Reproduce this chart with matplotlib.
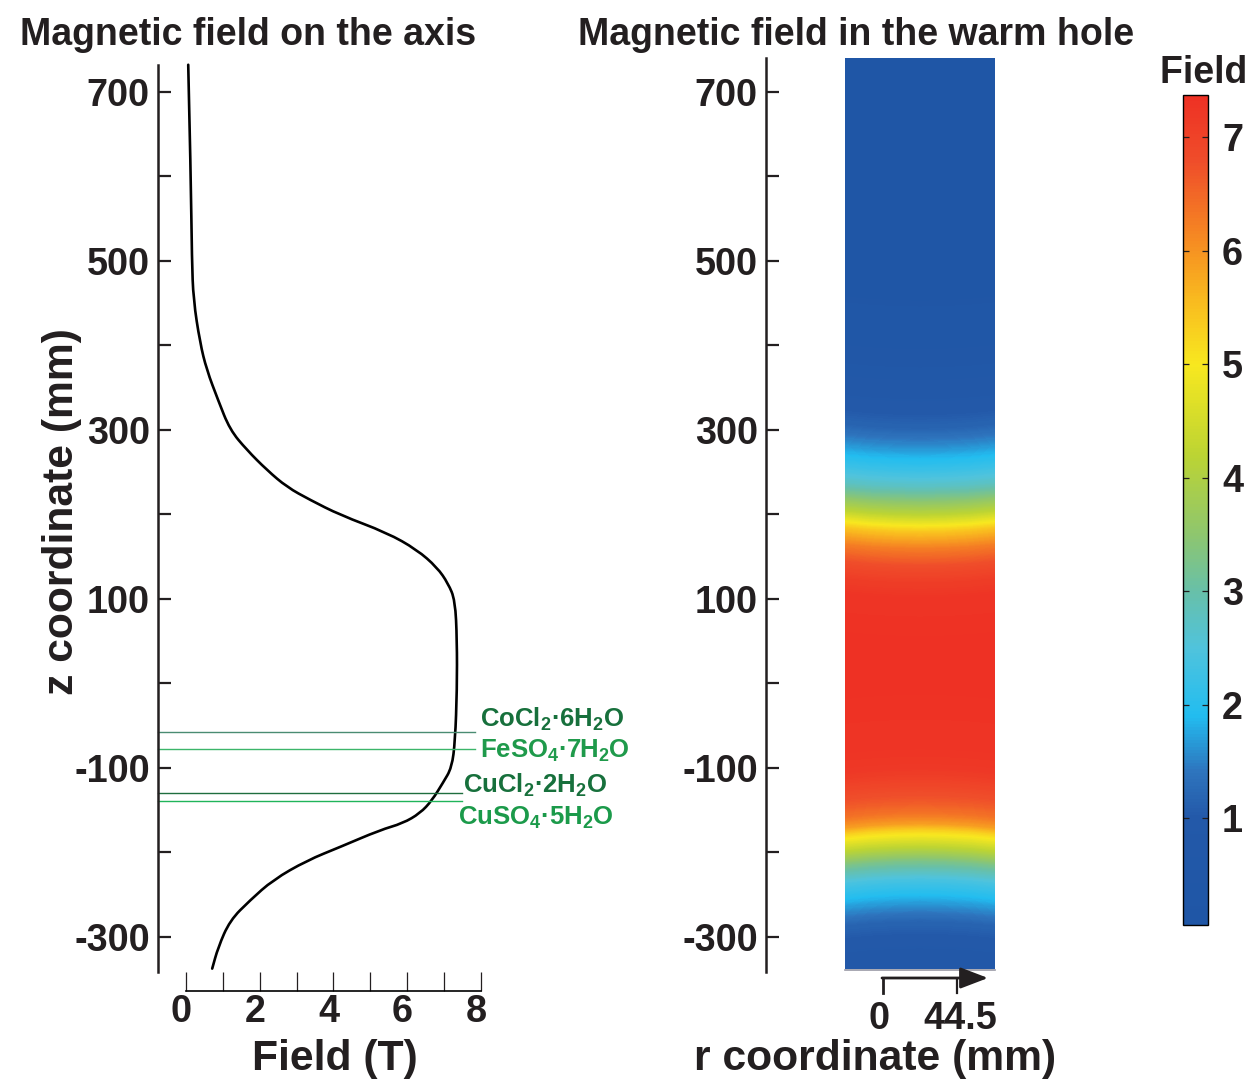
import numpy as np
import matplotlib
matplotlib.use("Agg")
import matplotlib.pyplot as plt
from matplotlib.colors import LinearSegmentedColormap, Normalize
from matplotlib.cm import ScalarMappable
from matplotlib.lines import Line2D
from matplotlib.path import Path
from matplotlib.patches import PathPatch
from matplotlib.transforms import IdentityTransform, ScaledTranslation

# ---- data ----
# field on the axis (z in mm, B in T)
Z_AXIS = [732, 600, 501, 454, 403, 371, 335, 300, 276, 252, 232, 217, 199, 178, 158,
          137, 118, 98, 51, -8, -68, -100, -118, -139, -154, -166, -174, -194, -210,
          -233, -257, -281, -313, -338]
B_AXIS = [0.06, 0.13, 0.16, 0.20, 0.38, 0.56, 0.87, 1.19, 1.65, 2.20, 2.74, 3.36, 4.18,
          5.45, 6.26, 6.81, 7.11, 7.30, 7.35, 7.35, 7.30, 7.21, 6.97, 6.67, 6.35, 5.88,
          5.26, 4.18, 3.28, 2.36, 1.74, 1.19, 0.87, 0.71]

# sample positions (mm) and their labels
SALTS = ["CoCl$_2$·6H$_2$O", "FeSO$_4$·7H$_2$O", "CuCl$_2$·2H$_2$O", "CuSO$_4$·5H$_2$O"]
SALT_Z = [-58, -78, -130, -139]

# warm hole: radial columns and outward shift of the iso-field lines off axis (mm)
R_COLS = [-44.5, -30, -15, 0, 15, 30, 44.5]
EDGE_SHIFT = [5.0, 2.2, 0.6, 0.0, 0.6, 2.2, 5.0]

Z_MAJOR = [700, 500, 300, 100, -100, -300]
Z_MINOR = [600, 400, 200, 0, -200]
CBAR_TICKS = [1, 2, 3, 4, 5, 6, 7]
B_MIN, B_MAX = 0.06, 7.37

# ---- style ----
W, H = 1259, 1079
plt.rcParams["font.family"] = ["Liberation Sans", "DejaVu Sans"]
plt.rcParams["font.weight"] = "bold"
plt.rcParams["axes.unicode_minus"] = False
plt.rcParams["mathtext.fontset"] = "custom"
plt.rcParams["mathtext.rm"] = "Liberation Sans:bold"
plt.rcParams["mathtext.it"] = "Liberation Sans:bold"
plt.rcParams["mathtext.bf"] = "Liberation Sans:bold"
TXT = "#231f20"
TICK_FS = 27.2
TITLE_FS = 27
LAB_FS = 30.7

SALT_TXT = ["#17703c", "#1f9a4b", "#17703c", "#1b9a4a"]
SALT_LINE = ["#4a8c72", "#3cb56a", "#1f6e3f", "#20b45a"]
SALT_END = [7.84, 7.84, 7.48, 7.48]
SALT_LAB = [(7.97, -52), (7.97, -89), (7.51, -130), (7.38, -168)]

cmap = LinearSegmentedColormap.from_list("field", [
    (0.0, "#1f56a6"),
    ((1.0 - B_MIN) / (B_MAX - B_MIN), "#2359a9"),
    ((1.4 - B_MIN) / (B_MAX - B_MIN), "#2e74bd"),
    ((1.9 - B_MIN) / (B_MAX - B_MIN), "#22bdf0"),
    ((2.5 - B_MIN) / (B_MAX - B_MIN), "#50c3dc"),
    ((3.0 - B_MIN) / (B_MAX - B_MIN), "#68c0a8"),
    ((3.5 - B_MIN) / (B_MAX - B_MIN), "#8ec66e"),
    ((4.2 - B_MIN) / (B_MAX - B_MIN), "#bcd433"),
    ((5.0 - B_MIN) / (B_MAX - B_MIN), "#f8e81f"),
    ((5.6 - B_MIN) / (B_MAX - B_MIN), "#f9b81f"),
    ((6.2 - B_MIN) / (B_MAX - B_MIN), "#f58223"),
    ((6.8 - B_MIN) / (B_MAX - B_MIN), "#ef4d2a"),
    (1.0, "#ee3124"),
])
norm = Normalize(B_MIN, B_MAX)


def box(x0, y0, x1, y1):
    # pixel box (top-left origin) -> figure fraction rect
    return [x0 / W, 1 - y1 / H, (x1 - x0) / W, (y1 - y0) / H]


def ftext(x, y, s, **kw):
    fig.text(x / W, 1 - y / H, s, color=TXT, **kw)


def smooth_path(xs, ys):
    # quadratic B-spline through the read points (points act as control points)
    pts = np.column_stack([xs, ys]).astype(float)
    verts = [pts[0]]
    codes = [Path.MOVETO]
    for i in range(1, len(pts) - 1):
        verts += [pts[i], (pts[i] + pts[i + 1]) / 2]
        codes += [Path.CURVE3, Path.CURVE3]
    verts.append(pts[-1])
    codes.append(Path.LINETO)
    return Path(verts, codes)


def style_z_axis(ax):
    ax.set_yticks(Z_MAJOR)
    ax.set_yticks(Z_MINOR, minor=True)
    ax.tick_params(axis="y", which="both", direction="in", length=9, width=1.6,
                   colors=TXT, labelsize=TICK_FS, pad=6)
    ax.spines["left"].set_linewidth(1.8)
    ax.spines["left"].set_color(TXT)
    for s in ["top", "right"]:
        ax.spines[s].set_visible(False)


fig = plt.figure(figsize=(W / 100, H / 100), dpi=100)

# ---- left: field on the axis ----
ZLIM = (-342, 740)
ax1 = fig.add_axes(box(158, 58, 492, 972))
ax1.add_patch(PathPatch(smooth_path(B_AXIS, Z_AXIS), fill=False, edgecolor="black",
                        lw=1.9, capstyle="round"))
ax1.set_xlim(-0.76, 8.3)
ax1.set_ylim(*ZLIM)
style_z_axis(ax1)
ax1.spines["left"].set_bounds(ZLIM[0], 732)
ax1.spines["bottom"].set_position(("outward", 14))
ax1.spines["bottom"].set_bounds(0, 8)
ax1.spines["bottom"].set_linewidth(1.2)
ax1.set_xticks([0, 2, 4, 6, 8])
ax1.set_xticks([1, 3, 5, 7], minor=True)
ax1.tick_params(axis="x", which="both", direction="in", length=13.5, width=0.9,
                colors=TXT, labelsize=TICK_FS, pad=1.5)
shift = ScaledTranslation(-0.05, 0, fig.dpi_scale_trans)
for lab in ax1.get_xticklabels():
    lab.set_transform(lab.get_transform() + shift)

for name, z, lc, tc, xe, (lx, lz) in zip(SALTS, SALT_Z, SALT_LINE, SALT_TXT, SALT_END, SALT_LAB):
    ax1.plot([-0.76, xe], [z, z], color=lc, lw=1.0, clip_on=False)
    ax1.text(lx, lz, name, color=tc, fontsize=18.5, ha="left", va="baseline", clip_on=False)

# ---- right: field in the warm hole ----
ax2 = fig.add_axes(box(766, 58, 1000, 972))
z = np.array(Z_AXIS, float)
r = np.array(R_COLS, float)
sh = np.array(EDGE_SHIFT, float)
Y = z[:, None] + np.sign(z)[:, None] * sh[None, :]
Y[0, :] = ZLIM[1]
Y[-1, :] = z[-1]
X = np.broadcast_to(r[None, :], Y.shape)
Bv = np.broadcast_to(np.array(B_AXIS, float)[:, None], Y.shape)
ax2.contourf(X, Y, Bv, levels=np.linspace(B_MIN, B_MAX, 300), cmap=cmap, norm=norm,
             extend="both", antialiased=False)
ax2.plot([R_COLS[0], R_COLS[-1]], [Z_AXIS[-1] - 1.5, Z_AXIS[-1] - 1.5], color="#9a9aa5", lw=1.2)
ax2.set_xlim(-91.4, 47.5)
ax2.set_ylim(*ZLIM)
style_z_axis(ax2)
ax2.spines["bottom"].set_visible(False)
ax2.set_xticks([])

# r scale arrow under the map
idt = IdentityTransform()
fig.add_artist(Line2D([883, 883], [H - 978, H - 993], color=TXT, lw=2, transform=idt))
fig.add_artist(Line2D([957, 957], [H - 979, H - 993], color=TXT, lw=1.6, transform=idt))
ax2.annotate("", xy=(988, H - 978), xytext=(882, H - 978), xycoords="figure pixels",
             textcoords="figure pixels",
             arrowprops=dict(arrowstyle="-|>,head_length=1.7,head_width=0.65", lw=2,
                             color=TXT, shrinkA=0, shrinkB=0))
ftext(879, 1029, "0", fontsize=TICK_FS, ha="center", va="baseline")
ftext(960, 1029, "44.5", fontsize=TICK_FS, ha="center", va="baseline")

# ---- colorbar ----
cax = fig.add_axes(box(1183, 95, 1208, 925))
cb = fig.colorbar(ScalarMappable(norm=norm, cmap=cmap), cax=cax)
cb.set_ticks(CBAR_TICKS)
cb.outline.set_linewidth(1.0)
cax.tick_params(axis="y", direction="in", length=4, width=0.9, left=True, right=True,
                labelleft=False, labelright=True, labelsize=TICK_FS, pad=10, colors=TXT)

# ---- titles and labels ----
ftext(20, 45, "Magnetic field on the axis", fontsize=TITLE_FS, ha="left", va="baseline")
ftext(578, 45, "Magnetic field in the warm hole", fontsize=TITLE_FS, ha="left", va="baseline")
ftext(1160, 83, "Field (T)", fontsize=TITLE_FS, ha="left", va="baseline")
ftext(62, 512, "z coordinate (mm)", fontsize=LAB_FS, rotation=90, ha="center", va="center")
ftext(335, 1070, "Field (T)", fontsize=LAB_FS, ha="center", va="baseline")
ftext(875, 1070, "r coordinate (mm)", fontsize=LAB_FS, ha="center", va="baseline")

fig.savefig("out.png", dpi=100)
